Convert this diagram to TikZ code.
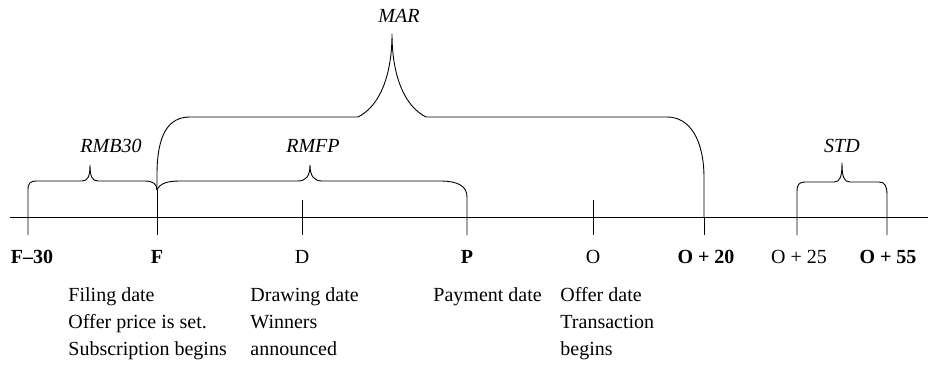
\documentclass[tikz,border=0pt]{standalone}
\usepackage{fontspec}
\setmainfont{Liberation Serif}
\begin{document}
\begin{tikzpicture}[x=1pt,y=-1pt,line width=0.9pt,line join=round,
  ticklbl/.style={inner sep=0pt,anchor=base,font=\fontsize{20}{24}\selectfont},
  spanlbl/.style={inner sep=0pt,anchor=base,font=\fontsize{20}{24}\selectfont\itshape},
  note/.style={inner sep=0pt,anchor=base west,font=\fontsize{20}{24}\selectfont}]
\useasboundingbox (0,0) rectangle (929,380);

% time axis
\coordinate (axL) at (10,217);
\coordinate (axR) at (928,217);
\draw (axL) -- (axR);

% tick feet
\coordinate (tF30) at (28,235);
\coordinate (tF)   at (157,235);
\coordinate (tD)   at (302,235);
\coordinate (tP)   at (467,235);
\coordinate (tO)   at (593,235);
\coordinate (tO20) at (704,235);
\coordinate (tO25) at (797,235);
\coordinate (tO55) at (887,235);

% plain ticks
\draw (tF) -- (157,190);
\draw (tD) -- (302,200);
\draw (tO) -- (593,200);
\draw (tO20) -- (704,217);

% RMB30 brace: F-30 to F
\draw (tF30) -- (28,190) .. controls (28,183) and (30,181) .. (37,181) -- (82,181)
  .. controls (88,181) and (90,176) .. (90,165)
  .. controls (90,176) and (92,181) .. (98,181) -- (145,181)
  .. controls (153,181) and (157,184) .. (157,190);

% RMFP brace: F to P
\draw (157,190) .. controls (160,183) and (168,181) .. (180,181) -- (298,181)
  .. controls (306,181) and (310,176) .. (310,165)
  .. controls (310,176) and (314,181) .. (322,181) -- (440,181)
  .. controls (458,181) and (467,186) .. (467,197) -- (tP);

% MAR brace: F to O+20
\draw (157,190) -- (157,175) .. controls (157,135) and (168,117) .. (190,117) -- (358,117)
  .. controls (380,106) and (392,75) .. (392,34)
  .. controls (392,75) and (404,106) .. (426,117) -- (667,117)
  .. controls (690,117) and (704,140) .. (704,178) -- (704,217);

% STD brace: O+25 to O+55
\draw (tO25) -- (797,192) .. controls (797,184) and (799,182) .. (806,182) -- (834,182)
  .. controls (840,182) and (842,177) .. (842,163)
  .. controls (842,177) and (844,182) .. (850,182) -- (879,182)
  .. controls (885,182) and (887,186) .. (887,195) -- (tO55);

% span labels
\node[spanlbl] (lMAR)   at (399,23)  {MAR};
\node[spanlbl] (lRMB)   at (111,152) {RMB30};
\node[spanlbl] (lRMFP)  at (313,152) {RMFP};
\node[spanlbl] (lSTD)   at (842,152) {STD};

% date labels
\node[ticklbl] (nF30) at (32,263)  {\bfseries F--30};
\node[ticklbl] (nF)   at (157,263) {\bfseries F};
\node[ticklbl] (nD)   at (302,263) {D};
\node[ticklbl] (nP)   at (467,263) {\bfseries P};
\node[ticklbl] (nO)   at (593,263) {O};
\node[ticklbl] (nO20) at (706,263) {\bfseries O + 20};
\node[ticklbl] (nO25) at (799,263) {O + 25};
\node[ticklbl] (nO55) at (888,263) {\bfseries O + 55};

% event notes
\node[note] (f1) at (68,301)  {Filing date};
\node[note] (f2) at (68,328)  {Offer price is set.};
\node[note] (f3) at (68,355)  {Subscription begins};
\node[note] (d1) at (250,301) {Drawing date};
\node[note] (d2) at (250,328) {Winners};
\node[note] (d3) at (250,355) {announced};
\node[note] (p1) at (433,301) {Payment date};
\node[note] (o1) at (560,301) {Offer date};
\node[note] (o2) at (560,328) {Transaction};
\node[note] (o3) at (560,355) {begins};
\end{tikzpicture}
\end{document}
